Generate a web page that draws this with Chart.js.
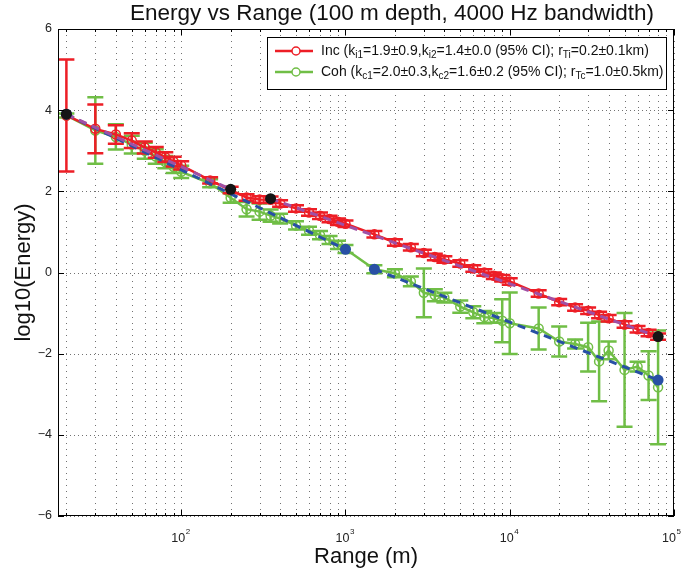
<!DOCTYPE html>
<html>
<head>
<meta charset="utf-8">
<script src="https://cdn.jsdelivr.net/npm/chart.js@4.4.0/dist/chart.umd.min.js"></script>
<style>
  html, body { margin: 0; padding: 0; background: #fff; }
</style>
</head>
<body>
<canvas id="chart" width="681" height="569"></canvas>
<script>
// ranges (m) where energy was measured
const ranges = [20, 30, 40, 50, 60, 70, 80, 90, 100, 150, 200, 250, 300, 350, 400, 500, 600, 700, 800, 900,
  1000, 1500, 2000, 2500, 3000, 3500, 4000, 5000, 6000, 7000, 8000, 9000, 10000,
  15000, 20000, 25000, 30000, 35000, 40000, 50000, 60000, 70000, 80000];

// incoherent energy, log10, and 95% CI half widths
const incEnergy = [3.87, 3.54, 3.40, 3.25, 3.08, 2.96, 2.84, 2.73, 2.64, 2.27, 2.03, 1.85, 1.80, 1.79, 1.70, 1.58, 1.48, 1.40, 1.32, 1.25,
  1.20, 0.94, 0.74, 0.62, 0.48, 0.38, 0.32, 0.22, 0.10, 0.00, -0.08, -0.14, -0.22,
  -0.52, -0.73, -0.86, -0.94, -1.05, -1.13, -1.28, -1.40, -1.49, -1.58];
const incErr = [1.38, 0.60, 0.23, 0.18, 0.15, 0.13, 0.12, 0.12, 0.10, 0.08, 0.08, 0.08, 0.08, 0.08, 0.08, 0.08, 0.08, 0.08, 0.08, 0.08,
  0.08, 0.08, 0.08, 0.08, 0.08, 0.08, 0.08, 0.08, 0.08, 0.08, 0.08, 0.08, 0.08,
  0.08, 0.08, 0.08, 0.08, 0.08, 0.08, 0.08, 0.08, 0.08, 0.08];

// coherent energy
const cohEnergy = [3.87, 3.50, 3.34, 3.15, 3.00, 2.86, 2.72, 2.60, 2.48, 2.20, 1.84, 1.56, 1.50, 1.40, 1.33, 1.16, 1.03, 0.92, 0.80, 0.68,
  0.58, 0.08, -0.02, -0.22, -0.50, -0.56, -0.62, -0.84, -0.98, -1.10, -1.12, -1.19, -1.25,
  -1.38, -1.70, -1.76, -1.84, -2.19, -1.92, -2.40, -2.32, -2.54, -2.83];
const cohErr = [0.05, 0.82, 0.31, 0.22, 0.20, 0.18, 0.15, 0.15, 0.15, 0.10, 0.12, 0.18, 0.20, 0.15, 0.12, 0.10, 0.10, 0.10, 0.10, 0.10,
  0.10, 0.10, 0.10, 0.12, 0.60, 0.15, 0.12, 0.15, 0.15, 0.15, 0.12, 0.53, 0.76,
  0.52, 0.37, 0.11, 0.60, 0.98, 0.22, 1.40, 0.12, 0.60, 1.40];

// two-segment fits: [range, log10 energy], null marks the gap between segments
const incFit = [[20, 3.90], [200, 2.05], [270, null], [350, 1.82], [80000, -1.58]];
const cohFit = [[20, 3.90], [1000, 0.57], [1200, null], [1500, 0.08], [80000, -2.65]];
const incBreaks = [[20, 3.90], [200, 2.05], [350, 1.82], [80000, -1.58]];
const cohBreaks = [[20, 3.90], [1000, 0.57], [1500, 0.08], [80000, -2.65]];

// axes
const xMin = 17.78, xMax = 100000;
const xMajor = [100, 1000, 10000, 100000];
const xExponents = ['2', '3', '4', '5'];
const yTicks = [-6, -4, -2, 0, 2, 4, 6];
const yTickLabels = ['\u22126', '\u22124', '\u22122', '0', '2', '4', '6'];

const titleText = 'Energy vs Range (100 m depth, 4000 Hz bandwidth)';
const xTitle = 'Range (m)';
const yTitle = 'log10(Energy)';
// legend text pieces, second item = subscript
const incLegend = [['Inc (k'], ['i1', 1], ['=1.9\u00b10.9,k'], ['i2', 1], ['=1.4\u00b10.0 (95% CI); r'], ['Ti', 1], ['=0.2\u00b10.1km)']];
const cohLegend = [['Coh (k'], ['c1', 1], ['=2.0\u00b10.3,k'], ['c2', 1], ['=1.6\u00b10.2 (95% CI); r'], ['Tc', 1], ['=1.0\u00b10.5km)']];

const RED = 'rgb(237,30,38)';
const GREEN = 'rgb(112,190,70)';
const PURPLE = 'rgb(160,80,165)';
const BLUE = 'rgb(40,80,165)';
const FONT = "'Liberation Sans', Arial, Helvetica, sans-serif";

const toXY = arr => arr.map(p => ({ x: p[0], y: p[1] }));

// minor x grid: 2..9 of each decade inside the range
const xGrid = [];
for (let d = 10; d < xMax; d *= 10) {
  for (let m = 1; m < 10; m++) {
    const v = d * m;
    if (v >= xMin && v <= xMax) xGrid.push(v);
  }
}
xGrid.push(xMax);

function drawRich(ctx, parts, x, y, size, subSize) {
  parts.forEach(([txt, sub]) => {
    ctx.font = (sub ? subSize : size) + 'px ' + FONT;
    ctx.fillText(txt, x, sub ? y + 4 : y);
    x += ctx.measureText(txt).width;
  });
}

const matlabAxes = {
  id: 'matlabAxes',
  beforeDatasetsDraw(chart) {
    const { ctx, chartArea: a, scales: { x, y } } = chart;
    ctx.save();
    ctx.strokeStyle = 'rgba(20,20,20,0.6)';
    ctx.lineWidth = 1;
    ctx.setLineDash([1, 5]);
    ctx.beginPath();
    xGrid.forEach(v => {
      const px = Math.round(x.getPixelForValue(v)) + 0.5;
      ctx.moveTo(px, a.top); ctx.lineTo(px, a.bottom);
    });
    ctx.stroke();
    ctx.setLineDash([1, 3]);
    ctx.beginPath();
    yTicks.forEach(v => {
      const py = Math.round(y.getPixelForValue(v)) + 0.5;
      ctx.moveTo(a.left, py); ctx.lineTo(a.right, py);
    });
    ctx.stroke();
    ctx.restore();
  },
  beforeDatasetDraw(chart, args) {
    const ds = chart.data.datasets[args.index];
    if (!ds.errors) return;
    const { ctx, scales: { x, y } } = chart;
    ctx.save();
    ctx.strokeStyle = ds.borderColor;
    ctx.lineWidth = 2.5;
    ctx.beginPath();
    ds.data.forEach((p, i) => {
      const px = x.getPixelForValue(p.x);
      const top = y.getPixelForValue(p.y + ds.errors[i]);
      const bot = y.getPixelForValue(p.y - ds.errors[i]);
      ctx.moveTo(px, top); ctx.lineTo(px, bot);
      ctx.moveTo(px - 8, top); ctx.lineTo(px + 8, top);
      ctx.moveTo(px - 8, bot); ctx.lineTo(px + 8, bot);
    });
    ctx.stroke();
    ctx.restore();
  },
  afterDraw(chart) {
    const { ctx, chartArea: a, scales: { x, y } } = chart;
    ctx.save();
    // frame
    ctx.strokeStyle = '#000';
    ctx.lineWidth = 1;
    ctx.strokeRect(a.left + 0.5, a.top + 0.5, a.right - a.left - 1, a.bottom - a.top - 1);
    // ticks, inward on all sides
    ctx.beginPath();
    xGrid.forEach(v => {
      const px = Math.round(x.getPixelForValue(v)) + 0.5;
      const len = xMajor.includes(v) ? 6 : 3;
      ctx.moveTo(px, a.bottom); ctx.lineTo(px, a.bottom - len);
      ctx.moveTo(px, a.top); ctx.lineTo(px, a.top + len);
    });
    yTicks.forEach(v => {
      const py = Math.round(y.getPixelForValue(v)) + 0.5;
      ctx.moveTo(a.left, py); ctx.lineTo(a.left + 6, py);
      ctx.moveTo(a.right, py); ctx.lineTo(a.right - 6, py);
    });
    ctx.stroke();

    ctx.fillStyle = '#222';
    // y tick labels
    ctx.font = '12.5px ' + FONT;
    ctx.textAlign = 'right';
    ctx.textBaseline = 'middle';
    yTicks.forEach((v, i) => ctx.fillText(yTickLabels[i], a.left - 6, y.getPixelForValue(v)));
    // x tick labels 10^n
    ctx.textBaseline = 'alphabetic';
    xMajor.forEach((v, i) => {
      const px = Math.min(x.getPixelForValue(v) + 4, 676);
      ctx.font = '12.5px ' + FONT;
      ctx.textAlign = 'right';
      ctx.fillText('10', px, a.bottom + 26);
      ctx.font = '8px ' + FONT;
      ctx.textAlign = 'left';
      ctx.fillText(xExponents[i], px + 0.5, a.bottom + 18);
    });
    // axis titles
    ctx.fillStyle = '#111';
    ctx.textAlign = 'center';
    ctx.font = '22px ' + FONT;
    ctx.fillText(xTitle, (a.left + a.right) / 2, a.bottom + 47);
    ctx.save();
    ctx.translate(30, (a.top + a.bottom) / 2);
    ctx.rotate(-Math.PI / 2);
    ctx.fillText(yTitle, 0, 0);
    ctx.restore();
    // title
    ctx.font = '22.5px ' + FONT;
    ctx.fillText(titleText, 392, 20);

    // legend
    const lx = 267, ly = 37, lw = 399, lh = 52;
    ctx.fillStyle = '#fff';
    ctx.fillRect(lx, ly, lw, lh);
    ctx.strokeStyle = '#000';
    ctx.lineWidth = 1;
    ctx.strokeRect(lx + 0.5, ly + 0.5, lw, lh);
    [[incLegend, RED, 51], [cohLegend, GREEN, 72]].forEach(([parts, col, ry]) => {
      ctx.strokeStyle = col;
      ctx.lineWidth = 2.5;
      ctx.beginPath();
      ctx.moveTo(275, ry); ctx.lineTo(313, ry);
      ctx.stroke();
      ctx.lineWidth = 1.5;
      ctx.fillStyle = '#fff';
      ctx.beginPath();
      ctx.arc(296, ry, 4, 0, Math.PI * 2);
      ctx.fill();
      ctx.stroke();
      ctx.fillStyle = '#111';
      ctx.textAlign = 'left';
      ctx.textBaseline = 'middle';
      drawRich(ctx, parts, 321, ry, 14, 10);
    });
    ctx.restore();
  }
};

const chart = new Chart(document.getElementById('chart'), {
  type: 'line',
  data: {
    datasets: [
      {
        data: toXY(incBreaks), showLine: false, order: 0,
        pointRadius: 5.5, pointBackgroundColor: '#151515', pointBorderColor: '#151515', pointBorderWidth: 0
      },
      {
        data: toXY(cohBreaks), showLine: false, order: 1,
        pointRadius: 5.5, pointBackgroundColor: BLUE, pointBorderColor: BLUE, pointBorderWidth: 0
      },
      {
        data: toXY(incFit), order: 2, borderColor: PURPLE, borderWidth: 3, borderDash: [8, 6],
        pointRadius: 0, spanGaps: false, tension: 0
      },
      {
        data: toXY(cohFit), order: 3, borderColor: BLUE, borderWidth: 3, borderDash: [8, 6],
        pointRadius: 0, spanGaps: false, tension: 0
      },
      {
        data: ranges.map((r, i) => ({ x: r, y: incEnergy[i] })), errors: incErr, order: 4,
        borderColor: RED, borderWidth: 2.5, pointRadius: 4.5, pointBorderWidth: 1.5,
        pointBorderColor: RED, pointBackgroundColor: 'rgba(0,0,0,0)', tension: 0
      },
      {
        data: ranges.map((r, i) => ({ x: r, y: cohEnergy[i] })), errors: cohErr, order: 5,
        borderColor: GREEN, borderWidth: 2.5, pointRadius: 4.5, pointBorderWidth: 1.5,
        pointBorderColor: GREEN, pointBackgroundColor: 'rgba(0,0,0,0)', tension: 0
      }
    ]
  },
  options: {
    responsive: false,
    devicePixelRatio: 1,
    animation: false,
    layout: { padding: { left: 58, top: 29, right: 7, bottom: 53 } },
    plugins: { legend: { display: false }, tooltip: { enabled: false }, title: { display: false } },
    scales: {
      x: { type: 'logarithmic', min: xMin, max: xMax, display: false },
      y: { type: 'linear', min: -6, max: 6, display: false }
    }
  },
  plugins: [matlabAxes]
});
</script>
</body>
</html>
